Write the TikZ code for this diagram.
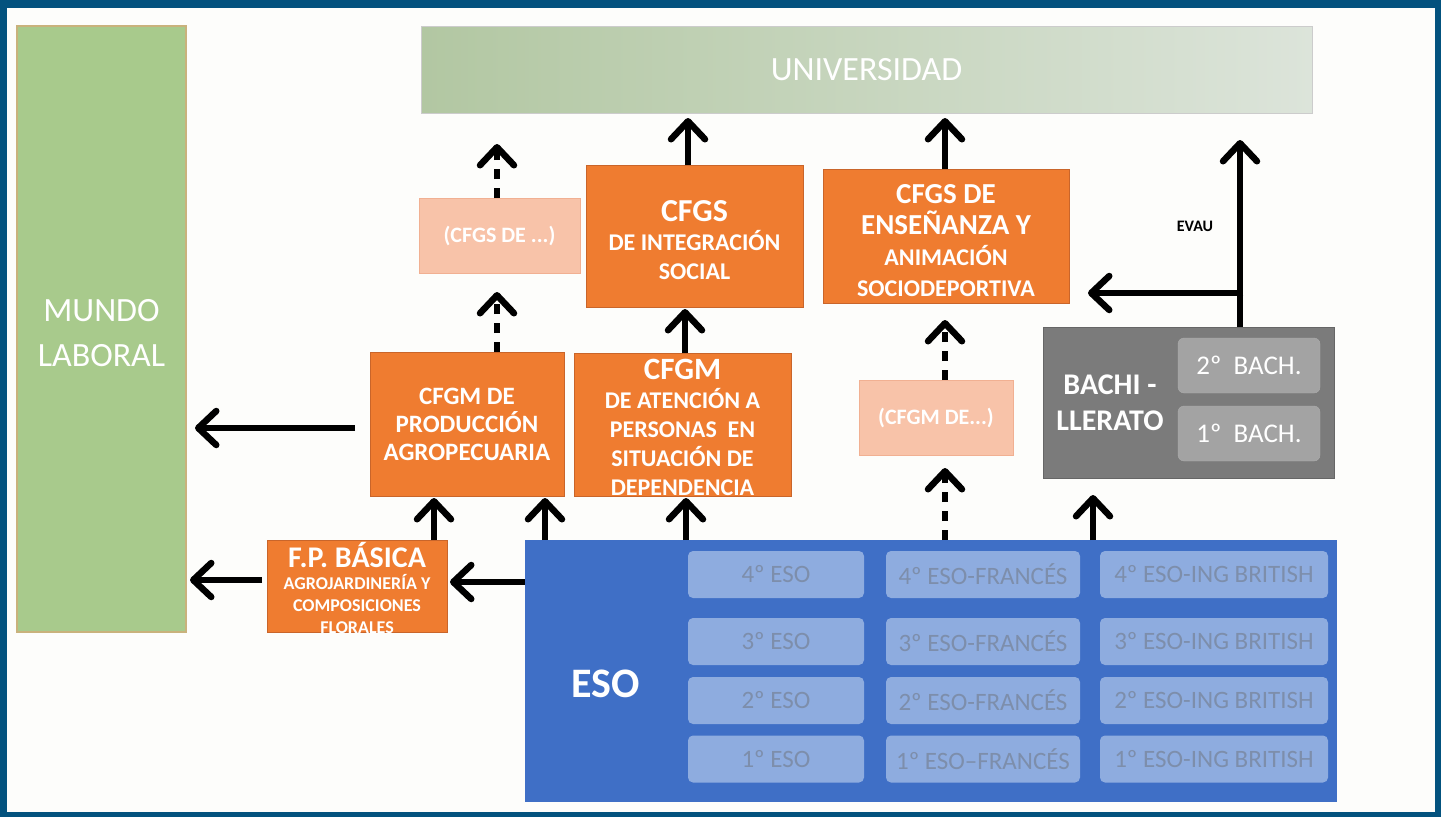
\documentclass[tikz,border=0pt]{standalone}
\usepackage{fontspec}
\setmainfont{Carlito}
\usetikzlibrary{arrows.meta}
\definecolor{framec}{HTML}{03527E}
\definecolor{bgc}{HTML}{FDFDFB}
\definecolor{orangec}{HTML}{EF7C30}
\definecolor{orangeb}{HTML}{C9652A}
\definecolor{lorange}{HTML}{F8C3A9}
\definecolor{lorangeb}{HTML}{F1B092}
\definecolor{greenc}{HTML}{A8CA8C}
\definecolor{greenb}{HTML}{C9B27C}
\definecolor{univl}{HTML}{B2C7A2}
\definecolor{univr}{HTML}{DCE4DA}
\definecolor{grayc}{HTML}{7B7B7B}
\definecolor{grayin}{HTML}{A3A3A3}
\definecolor{esoc}{HTML}{3F6FC6}
\definecolor{esoin}{HTML}{8EACDF}
\definecolor{esotxt}{HTML}{7D8EAB}
\tikzset{
  box/.style={rectangle, inner sep=0pt, outer sep=0pt, align=center, text=white},
  obox/.style={box, fill=orangec, draw=orangeb, line width=0.8pt},
  lbox/.style={box, fill=lorange, draw=lorangeb, line width=0.8pt, font=\bfseries\fontsize{22}{24}\selectfont},
  cell/.style={box, fill=esoin, rounded corners=5pt, text=esotxt, font=\fontsize{25}{28}\selectfont, minimum height=47pt},
  bcell/.style={box, fill=grayin, draw=gray!65, rounded corners=6pt, font=\fontsize{27}{30}\selectfont, minimum width=142pt, minimum height=55pt},
  arr/.style={line width=6.5pt, -{Straight Barb[length=18pt,width=34pt,round]}},
  darr/.style={arr, dash pattern=on 10pt off 9pt},
}
\begin{document}
\begin{tikzpicture}[x=1pt,y=-1pt]
\fill[framec] (0,0) rectangle (1441,817);
\fill[bgc] (7,8) rectangle (1435,812);
\useasboundingbox (0,0) rectangle (1441,817);

% boxes
\node[box, fill=greenc, draw=greenb, line width=1.2pt, minimum width=169pt, minimum height=606pt] (mundo) at (101.5,329) {};
\node[text=white, align=center, font=\fontsize{34}{45}\selectfont] (mundot) at (101.5,333) {MUNDO\\LABORAL};

\node[box, left color=univl, right color=univr, draw=gray!40, line width=0.8pt, minimum width=891pt, minimum height=87pt,
  font=\fontsize{34}{36}\selectfont] (univ) at (866.5,69.5) {UNIVERSIDAD};

\node[lbox, minimum width=161pt, minimum height=75pt] (cfgsx) at (499.5,235.5) {(CFGS DE ...)};
\node[obox, minimum width=217pt, minimum height=142pt] (cfgsis) at (694.5,236) {};
\node[text=white, align=center, font=\bfseries\fontsize{24}{29}\selectfont] (cfgsist) at (694.5,240)
  {{\fontsize{32}{32}\selectfont CFGS}\\DE INTEGRACIÓN\\SOCIAL};
\node[obox, minimum width=246pt, minimum height=134pt] (cfgsen) at (946,236) {};
\node[text=white, align=center, font=\bfseries\fontsize{24}{31}\selectfont] (cfgsent) at (946,241)
  {{\fontsize{29}{33}\selectfont CFGS DE}\\{\fontsize{29}{33}\selectfont ENSEÑANZA Y}\\ANIMACIÓN\\SOCIODEPORTIVA};

\node[obox, minimum width=194pt, minimum height=144pt, font=\bfseries\fontsize{25}{28}\selectfont] (cfgmpr) at (467,424)
  {CFGM DE\\ PRODUCCIÓN\\ AGROPECUARIA};
\node[obox, minimum width=217pt, minimum height=143pt] (cfgmat) at (682.5,424.5) {};
\node[text=white, align=center, font=\bfseries\fontsize{24}{29}\selectfont] (cfgmatt) at (682.5,427)
  {{\fontsize{31}{31}\selectfont CFGM}\\DE ATENCIÓN A\\PERSONAS\ \ EN\\SITUACIÓN DE\\DEPENDENCIA};
\node[lbox, minimum width=154pt, minimum height=75pt] (cfgmx) at (936,417.5) {(CFGM DE...)};

\node[box, fill=grayc, draw=gray!80!black, line width=0.8pt, minimum width=291pt, minimum height=151pt] (bach) at (1188.5,402.5) {};
\node[text=white, align=center, font=\bfseries\fontsize{30}{36}\selectfont] (bacht) at (1110,403) {BACHI -\\LLERATO};
\node[bcell] (b2) at (1249,365.5) {2º\ \ BACH.};
\node[bcell] (b1) at (1249,433.5) {1º\ \ BACH.};

\node[obox, minimum width=180pt, minimum height=92pt] (fpb) at (357,586) {};
\node[text=white, align=center, font=\bfseries\fontsize{18}{22}\selectfont] (fpbt) at (357,588)
  {{\fontsize{30}{30}\selectfont F.P. BÁSICA}\\AGROJARDINERÍA Y\\COMPOSICIONES\\FLORALES};

\node[box, fill=esoc, minimum width=812pt, minimum height=262pt] (eso) at (931,671) {};
\node[text=white, font=\bfseries\fontsize{42}{44}\selectfont] (esot) at (606,684) {ESO};

\node[cell, minimum width=176pt] (e41) at (776,574.5) {4º ESO};
\node[cell, minimum width=194pt] (e42) at (983,574.5) {4º ESO-FRANCÉS};
\node[cell, minimum width=228pt] (e43) at (1214,574.5) {4º ESO-ING BRITISH};
\node[cell, minimum width=176pt] (e31) at (776,641.5) {3º ESO};
\node[cell, minimum width=194pt] (e32) at (983,641.5) {3º ESO-FRANCÉS};
\node[cell, minimum width=228pt] (e33) at (1214,641.5) {3º ESO-ING BRITISH};
\node[cell, minimum width=176pt] (e21) at (776,700.5) {2º ESO};
\node[cell, minimum width=194pt] (e22) at (983,700.5) {2º ESO-FRANCÉS};
\node[cell, minimum width=228pt] (e23) at (1214,700.5) {2º ESO-ING BRITISH};
\node[cell, minimum width=176pt] (e11) at (776,759) {1º ESO};
\node[cell, minimum width=194pt] (e12) at (983,759) {1º ESO–FRANCÉS};
\node[cell, minimum width=228pt] (e13) at (1214,759) {1º ESO-ING BRITISH};

\node[font=\bfseries\fontsize{16}{18}\selectfont] (evau) at (1195,226) {EVAU};

% arrows
\draw[arr, shorten <=15pt, shorten >=9pt] (cfgmpr.west |- 0,428) -- (mundo.east |- 0,428);
\draw[arr, shorten <=5pt, shorten >=4pt] (fpb.west |- 0,580) -- (mundo.east |- 0,580);
\draw[arr, shorten >=3pt] (eso.west |- 0,582) -- (fpb.east |- 0,582);
\draw[arr, shorten >=2pt] (fpb.north -| 434,0) -- (cfgmpr.south -| 434,0);
\draw[arr, shorten >=2pt] (eso.north -| 545,0) -- (cfgmpr.south -| 545,0);
\draw[arr, shorten >=2pt] (eso.north -| 686,0) -- (cfgmat.south -| 686,0);
\draw[darr, shorten >=13pt] (eso.north -| 945,0) -- (cfgmx.south -| 945,0);
\draw[arr, shorten >=17pt] (eso.north -| 1093,0) -- (bach.south -| 1093,0);
\draw[darr, shorten >=17pt] (cfgmx.north -| 945,0) -- (cfgsen.south -| 945,0);
\draw[arr, shorten >=5pt] (cfgsen.north -| 945,0) -- (univ.south -| 945,0);
\draw[arr, shorten >=2pt] (cfgmat.north -| 685,0) -- (cfgsis.south -| 685,0);
\draw[arr, shorten >=5pt] (cfgsis.north -| 688,0) -- (univ.south -| 688,0);
\draw[darr, shorten >=19pt] (cfgmpr.north -| 497,0) -- (cfgsx.south -| 497,0);
\draw[darr, shorten >=31pt] (cfgsx.north -| 497,0) -- (univ.south -| 497,0);
\coordinate (branch) at (1240,293);
\draw[arr, shorten >=27pt] (bach.north -| branch) -- (univ.south -| branch);
\draw[arr, shorten >=19pt] ([xshift=3.25pt]branch) -- (cfgsen.east |- branch);
\end{tikzpicture}
\end{document}
